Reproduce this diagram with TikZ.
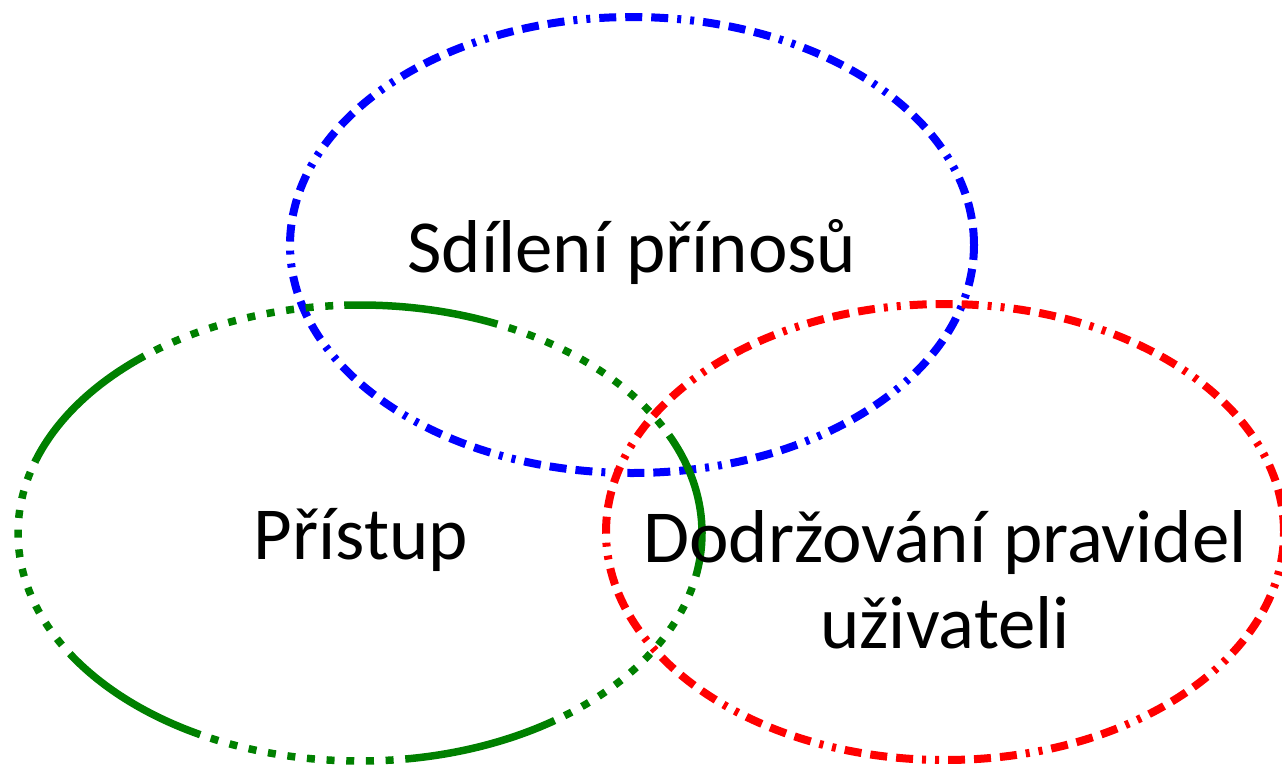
\documentclass[tikz,border=0pt]{standalone}
\usepackage{fontspec}
\setmainfont{Carlito}
\usepackage{tikz}

\begin{document}
\begin{tikzpicture}[
    ddline/.style={line width=0.8mm,
        dash pattern=on 1.7mm off 0.9mm on 1.7mm off 0.9mm on 1.7mm off 0.9mm
                     on 0.4mm off 0.9mm on 0.4mm off 0.9mm},
    longdots/.style={line width=0.75mm, dash phase=5.0mm,
        dash pattern=on 15.5mm off 1.1mm on 0.8mm off 1.17mm on 0.8mm off 1.17mm
                     on 0.8mm off 1.17mm on 0.8mm off 1.17mm on 0.8mm off 1.17mm
                     on 0.8mm off 1.17mm on 0.8mm off 1.17mm on 0.8mm off 1.17mm
                     on 0.8mm off 1.17mm on 0.8mm off 1.17mm},
    label/.style={text=black, font={\fontsize{21.3}{24.2}\selectfont}}]

    \useasboundingbox (0,0) rectangle (12.82,7.64);

    \draw [blue, ddline] (6.32,5.19) ellipse (3.42 and 2.28);
    \draw [red, ddline] (9.45,2.32) ellipse (3.39 and 2.28);
    \draw [green!50!black, longdots] (3.60,2.31) ellipse (3.42 and 2.28);

    \node [label, anchor=base] (share) at (6.32,4.92) {Sdílení přínosů};
    \node [label, anchor=base] (access) at (3.61,2.05) {Přístup};
    \node [label, anchor=base, align=center] (rules) at (9.45,1.16)
          {Dodržování pravidel\\uživateli};

\end{tikzpicture}
\end{document}
